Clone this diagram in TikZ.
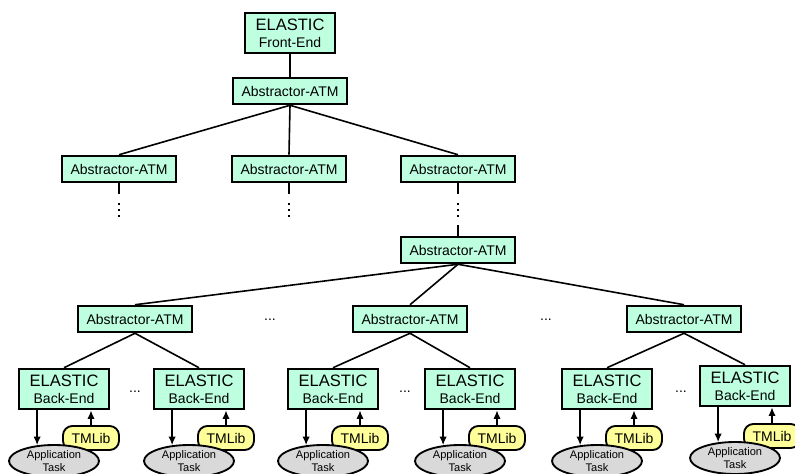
\documentclass[tikz,border=0pt]{standalone}
\usepackage{fontspec}
\setmainfont{Liberation Sans}
\usepackage{tikz}
\usetikzlibrary{arrows,arrows.meta,shapes,positioning,calc}
\definecolor{mint}{RGB}{190,255,224}
\definecolor{libyellow}{RGB}{255,255,153}
\definecolor{taskgray}{RGB}{217,217,217}
\tikzstyle{atm}=[rectangle, draw=black, fill=mint, line width=1.4pt, minimum width=85.5pt, minimum height=20pt, inner sep=0pt, font=\fontsize{10.5}{12}\selectfont]
\tikzstyle{elastic}=[rectangle, draw=black, fill=mint, line width=1.4pt, minimum width=68pt, minimum height=30.5pt, inner sep=0pt, align=center, font=\fontsize{10.5}{12.75}\selectfont]
\tikzstyle{tmlib}=[rectangle, rounded corners=7pt, draw=black, fill=libyellow, line width=1.4pt, minimum width=42pt, minimum height=18pt, inner sep=0pt, font=\fontsize{10.5}{12}\selectfont]
\tikzstyle{apptask}=[ellipse, draw=black, fill=taskgray, line width=1.4pt, minimum width=67.5pt, minimum height=24pt, inner sep=0pt, align=center, font=\fontsize{8.3}{9.5}\selectfont]
\tikzstyle{vdotsnode}=[inner sep=0pt, minimum width=2pt, minimum height=10.5pt]
\tikzstyle{dotline}=[line width=1.5pt, dash pattern=on 1.5pt off 3pt]
\tikzstyle{hdots}=[inner sep=0pt, font=\fontsize{10.5}{12}\selectfont]
\tikzstyle{arr}=[-{Latex[length=6.5pt,width=5.5pt]}]

\begin{document}
\begin{tikzpicture}[x=0.75pt, y=-0.75pt, line width=1.2pt]
				\useasboundingbox (0,0) rectangle (795,474);
				% top of the tree
				\node[elastic] (FE) at (290,33) {{\fontsize{12.4}{12.75}\selectfont ELASTIC}\\Front-End};
				\node[atm] (A0) at (290,91) {Abstractor-ATM};
				\node[atm] (A1) at (119,169) {Abstractor-ATM};
				\node[atm] (A2) at (289,169) {Abstractor-ATM};
				\node[atm] (A3) at (458,169) {Abstractor-ATM};
				\node[vdotsnode] (D1) at (119,211) {};
				\node[vdotsnode] (D2) at (289,211) {};
				\node[vdotsnode] (D3) at (458,211) {};
				\node[atm] (M) at (458,250) {Abstractor-ATM};
				
				% lower level
				\node[atm] (B1) at (135,319) {Abstractor-ATM};
				\node[atm] (B2) at (410,319) {Abstractor-ATM};
				\node[atm] (B3) at (684,319) {Abstractor-ATM};
				\node[hdots] (H1) at (270,320) {...};
				\node[hdots] (H2) at (546,320) {...};
				
				% back-ends
				\node[elastic] (E1) at (64,389) {{\fontsize{12.4}{12.75}\selectfont ELASTIC}\\Back-End};
				\node[elastic] (E2) at (199,389) {{\fontsize{12.4}{12.75}\selectfont ELASTIC}\\Back-End};
				\node[elastic] (E3) at (333,389) {{\fontsize{12.4}{12.75}\selectfont ELASTIC}\\Back-End};
				\node[elastic] (E4) at (470,389) {{\fontsize{12.4}{12.75}\selectfont ELASTIC}\\Back-End};
				\node[elastic] (E5) at (607,389) {{\fontsize{12.4}{12.75}\selectfont ELASTIC}\\Back-End};
				\node[elastic] (E6) at (745,386) {{\fontsize{12.4}{12.75}\selectfont ELASTIC}\\Back-End};
				\node[hdots] (K1) at (135,392) {...};
				\node[hdots] (K2) at (405,392) {...};
				\node[hdots] (K3) at (681,392) {...};
				
				\node[tmlib] (T1) at (91,438) {TMLib};
				\node[tmlib] (T2) at (226,438) {TMLib};
				\node[tmlib] (T3) at (360,438) {TMLib};
				\node[tmlib] (T4) at (497,438) {TMLib};
				\node[tmlib] (T5) at (634,438) {TMLib};
				\node[tmlib] (T6) at (772,436) {TMLib};
				
				\node[apptask] (P1) at (54,461) {Application\\Task};
				\node[apptask] (P2) at (189,461) {Application\\Task};
				\node[apptask] (P3) at (323,461) {Application\\Task};
				\node[apptask] (P4) at (460,461) {Application\\Task};
				\node[apptask] (P5) at (597,461) {Application\\Task};
				\node[apptask] (P6) at (735,458) {Application\\Task};
				
				\draw (FE)--(A0);
				\draw (A0.south)--(A1.north);
				\draw (A0.south)--(A2.north);
				\draw (A0.south)--(A3.north);
				\draw[shorten >=7pt] (A1)--(D1);
				\draw[shorten >=7pt] (A2)--(D2);
				\draw[shorten >=7pt] (A3)--(D3);
				\draw[shorten <=5pt] (D3)--(M);
				\draw[dotline] (D1.north)--(D1.south);
				\draw[dotline] (D2.north)--(D2.south);
				\draw[dotline] (D3.north)--(D3.south);
				\draw (M.south)--(B1.north);
				\draw (M.south)--(B2.north);
				\draw (M.south)--(B3.north);
				\draw (B1.south)--(E1.north);
				\draw (B1.south)--(E2.north);
				\draw (B2.south)--(E3.north);
				\draw (B2.south)--(E4.north);
				\draw (B3.south)--(E5.north);
				\draw (B3.south)--(E6.north);
				
				\draw[arr] (P1.137 |- E1.south)--(P1.137);
				\draw[arr] (P2.137 |- E2.south)--(P2.137);
				\draw[arr] (P3.137 |- E3.south)--(P3.137);
				\draw[arr] (P4.137 |- E4.south)--(P4.137);
				\draw[arr] (P5.137 |- E5.south)--(P5.137);
				\draw[arr] (P6.137 |- E6.south)--(P6.137);
				\draw[arr] (T1.north)--(T1.north |- E1.south);
				\draw[arr] (T2.north)--(T2.north |- E2.south);
				\draw[arr] (T3.north)--(T3.north |- E3.south);
				\draw[arr] (T4.north)--(T4.north |- E4.south);
				\draw[arr] (T5.north)--(T5.north |- E5.south);
				\draw[arr] (T6.north)--(T6.north |- E6.south);
			\end{tikzpicture}
\end{document}
